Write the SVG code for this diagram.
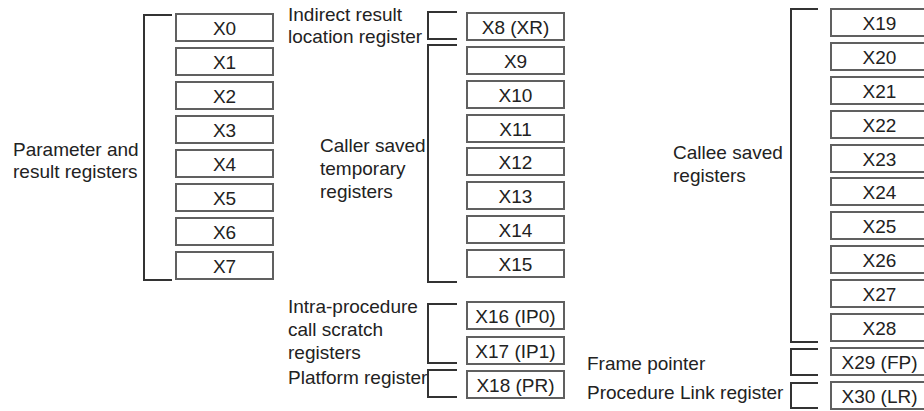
<svg xmlns="http://www.w3.org/2000/svg" width="924" height="411" viewBox="0 0 924 411">
<style>
.b{fill:#fff;stroke:#606060;stroke-width:2}
.t{font-family:"Liberation Sans",Arial,sans-serif;font-size:19px;fill:#222}
.c{text-anchor:middle}
.br{fill:none;stroke:#333;stroke-width:2}
</style>
<rect width="924" height="411" fill="#fff"/>
<g id="connectors">
<path class="br" d="M172,15H144V280H172"/>
<path class="br" d="M457,12H428V39H457"/>
<path class="br" d="M457,45H428V282H457"/>
<path class="br" d="M457,304H428V363H457"/>
<path class="br" d="M457,370H428V397H457"/>
<path class="br" d="M818,9H791V342H818"/>
<path class="br" d="M818,349H791V375H818"/>
<path class="br" d="M818,383H791V408H818"/>
</g>
<g id="labels">
<text class="t" x="13" y="156">Parameter and</text>
<text class="t" x="13" y="178">result registers</text>
<text class="t" x="288" y="21">Indirect result</text>
<text class="t" x="288" y="43">location register</text>
<text class="t" x="320" y="152">Caller saved</text>
<text class="t" x="320" y="175">temporary</text>
<text class="t" x="320" y="198">registers</text>
<text class="t" x="288" y="313">Intra-procedure</text>
<text class="t" x="288" y="336">call scratch</text>
<text class="t" x="288" y="359">registers</text>
<text class="t" x="288" y="384">Platform register</text>
<text class="t" x="673" y="159">Callee saved</text>
<text class="t" x="673" y="182">registers</text>
<text class="t" x="587" y="370">Frame pointer</text>
<text class="t" x="587" y="399">Procedure Link register</text>
</g>
<g id="X0"><rect class="b" x="176" y="14" width="97" height="27"/><text class="t c" x="224.5" y="34.5">X0</text></g>
<g id="X1"><rect class="b" x="176" y="48" width="97" height="27"/><text class="t c" x="224.5" y="68.5">X1</text></g>
<g id="X2"><rect class="b" x="176" y="82" width="97" height="27"/><text class="t c" x="224.5" y="102.5">X2</text></g>
<g id="X3"><rect class="b" x="176" y="116" width="97" height="27"/><text class="t c" x="224.5" y="136.5">X3</text></g>
<g id="X4"><rect class="b" x="176" y="150" width="97" height="27"/><text class="t c" x="224.5" y="170.5">X4</text></g>
<g id="X5"><rect class="b" x="176" y="184" width="97" height="27"/><text class="t c" x="224.5" y="204.5">X5</text></g>
<g id="X6"><rect class="b" x="176" y="218" width="97" height="27"/><text class="t c" x="224.5" y="238.5">X6</text></g>
<g id="X7"><rect class="b" x="176" y="252" width="97" height="27"/><text class="t c" x="224.5" y="272.5">X7</text></g>
<g id="X8"><rect class="b" x="467" y="13" width="97" height="27"/><text class="t c" x="515.5" y="33.5">X8 (XR)</text></g>
<g id="X9"><rect class="b" x="467" y="47" width="97" height="27"/><text class="t c" x="515.5" y="67.5">X9</text></g>
<g id="X10"><rect class="b" x="467" y="81" width="97" height="27"/><text class="t c" x="515.5" y="101.5">X10</text></g>
<g id="X11"><rect class="b" x="467" y="115" width="97" height="27"/><text class="t c" x="515.5" y="135.5">X11</text></g>
<g id="X12"><rect class="b" x="467" y="148" width="97" height="27"/><text class="t c" x="515.5" y="168.5">X12</text></g>
<g id="X13"><rect class="b" x="467" y="182" width="97" height="27"/><text class="t c" x="515.5" y="202.5">X13</text></g>
<g id="X14"><rect class="b" x="467" y="216" width="97" height="27"/><text class="t c" x="515.5" y="236.5">X14</text></g>
<g id="X15"><rect class="b" x="467" y="250" width="97" height="27"/><text class="t c" x="515.5" y="270.5">X15</text></g>
<g id="X16"><rect class="b" x="467" y="302" width="97" height="27"/><text class="t c" x="515.5" y="322.5">X16 (IP0)</text></g>
<g id="X17"><rect class="b" x="467" y="337" width="97" height="27"/><text class="t c" x="515.5" y="357.5">X17 (IP1)</text></g>
<g id="X18"><rect class="b" x="467" y="371" width="97" height="27"/><text class="t c" x="515.5" y="391.5">X18 (PR)</text></g>
<g id="X19"><rect class="b" x="831" y="9" width="97" height="27"/><text class="t c" x="879.5" y="29.5">X19</text></g>
<g id="X20"><rect class="b" x="831" y="43" width="97" height="27"/><text class="t c" x="879.5" y="63.5">X20</text></g>
<g id="X21"><rect class="b" x="831" y="77" width="97" height="27"/><text class="t c" x="879.5" y="97.5">X21</text></g>
<g id="X22"><rect class="b" x="831" y="111" width="97" height="27"/><text class="t c" x="879.5" y="131.5">X22</text></g>
<g id="X23"><rect class="b" x="831" y="145" width="97" height="27"/><text class="t c" x="879.5" y="165.5">X23</text></g>
<g id="X24"><rect class="b" x="831" y="178" width="97" height="27"/><text class="t c" x="879.5" y="198.5">X24</text></g>
<g id="X25"><rect class="b" x="831" y="212" width="97" height="27"/><text class="t c" x="879.5" y="232.5">X25</text></g>
<g id="X26"><rect class="b" x="831" y="246" width="97" height="27"/><text class="t c" x="879.5" y="266.5">X26</text></g>
<g id="X27"><rect class="b" x="831" y="280" width="97" height="27"/><text class="t c" x="879.5" y="300.5">X27</text></g>
<g id="X28"><rect class="b" x="831" y="314" width="97" height="27"/><text class="t c" x="879.5" y="334.5">X28</text></g>
<g id="X29"><rect class="b" x="831" y="348" width="97" height="27"/><text class="t c" x="879.5" y="368.5">X29 (FP)</text></g>
<g id="X30"><rect class="b" x="831" y="382" width="97" height="27"/><text class="t c" x="879.5" y="402.5">X30 (LR)</text></g>
</svg>
